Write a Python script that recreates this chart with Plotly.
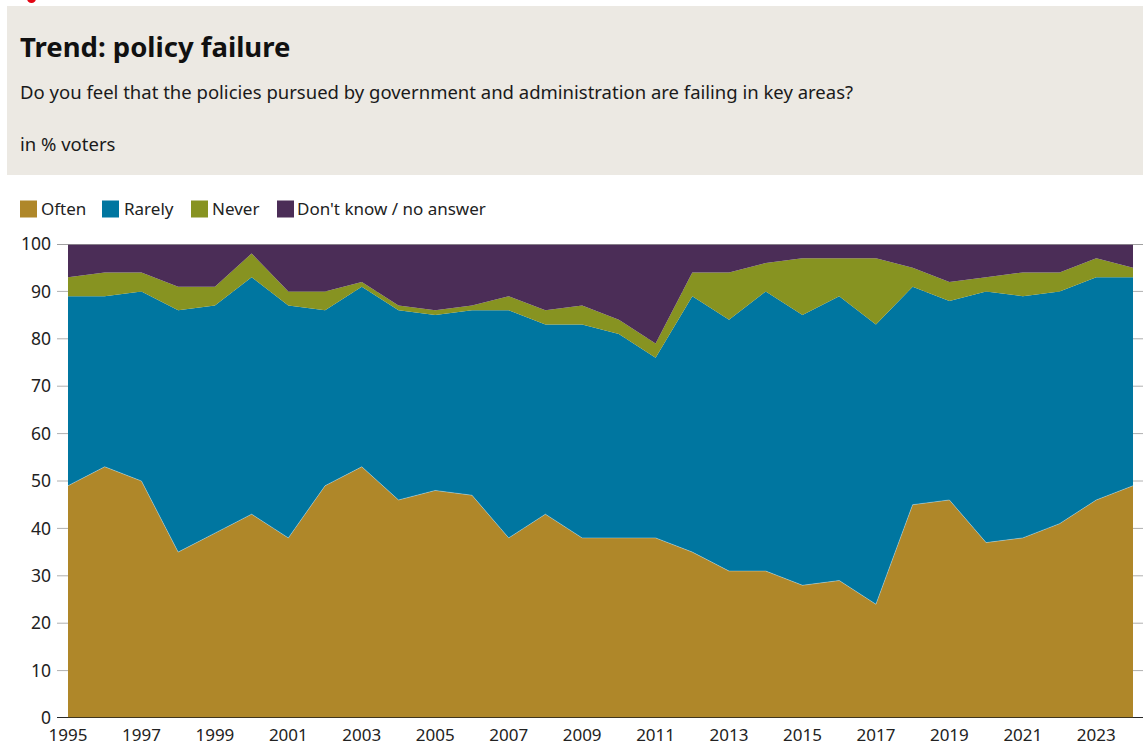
import plotly.graph_objects as go

# Survey years and shares (in % of voters)
years = list(range(1995, 2025))
often = [49, 53, 50, 35, 39, 43, 38, 49, 53, 46, 48, 47, 38, 43, 38,
         38, 38, 35, 31, 31, 28, 29, 24, 45, 46, 37, 38, 41, 46, 49]
rarely = [40, 36, 40, 51, 48, 50, 49, 37, 38, 40, 37, 39, 48, 40, 45,
          43, 38, 54, 53, 59, 57, 60, 59, 46, 42, 53, 51, 49, 47, 44]
never = [4, 5, 4, 5, 4, 5, 3, 4, 1, 1, 1, 1, 3, 3, 4,
         3, 3, 5, 10, 6, 12, 8, 14, 4, 4, 3, 5, 4, 4, 2]
dont_know = [7, 6, 6, 9, 9, 2, 10, 10, 8, 13, 14, 13, 11, 14, 13,
             16, 21, 6, 6, 4, 3, 3, 3, 5, 8, 7, 6, 6, 3, 5]

series_names = ["Often", "Rarely", "Never", "Don't know / no answer"]
series_values = [often, rarely, never, dont_know]
series_colors = ["#AF8729", "#0076A0", "#879321", "#4B2D57"]

y_ticks = list(range(0, 101, 10))
x_ticks = list(range(1995, 2024, 2))

title_text = "Trend: policy failure"
subtitle_text = "Do you feel that the policies pursued by government and administration are failing in key areas?"
unit_text = "in % voters"

FONT = "Noto Sans, Open Sans, sans-serif"
W, H = 1143, 747
ML, MR, MT, MB = 68, 10, 244, 29
PW, PH = W - ML - MR, H - MT - MB


def px_x(px):
    return (px - ML) / PW


def px_y(py):
    return (H - MB - py) / PH


fig = go.Figure()

for name, vals, col in zip(series_names, series_values, series_colors):
    line = dict(width=0, color=col)
    if name == "Often":
        line = dict(width=0.7, color="rgba(255,255,255,0.45)")
    fig.add_trace(go.Scatter(
        x=years, y=vals, name=name, mode="lines",
        stackgroup="one", fillcolor=col, line=line,
        showlegend=False, hoverinfo="x+y+name",
    ))

shapes = []
annotations = []

# Header panel
shapes.append(dict(type="rect", xref="paper", yref="paper",
                   x0=px_x(7), x1=px_x(1143), y0=px_y(175), y1=px_y(6),
                   fillcolor="#ECE9E3", line=dict(width=0), layer="below"))
# Small red mark at the top edge
shapes.append(dict(type="circle", xref="paper", yref="paper",
                   x0=px_x(27), x1=px_x(36), y0=px_y(3), y1=px_y(-6),
                   fillcolor="#E30613", line=dict(width=0), layer="above"))
# Grid lines extending past the plot on both sides
for t in y_ticks:
    if t == 0:
        col, w = "#1a1a1a", 1.3
    elif t == 100:
        col, w = "#9a9a9a", 1.3
    else:
        col, w = "#b0b0b0", 1
    shapes.append(dict(type="line", xref="paper", yref="y",
                       x0=px_x(57), x1=px_x(1143), y0=t, y1=t,
                       line=dict(color=col, width=w), layer="below"))
shapes.append(dict(type="line", xref="paper", yref="y",
                   x0=px_x(57), x1=px_x(1143), y0=0, y1=0,
                   line=dict(color="#1a1a1a", width=1.3), layer="above"))
shapes.append(dict(type="line", xref="paper", yref="y",
                   x0=px_x(57), x1=px_x(1143), y0=100, y1=100,
                   line=dict(color="#9a9a9a", width=1.3), layer="above"))

# Legend: square swatches with labels
legend_sq_x = [20, 102, 191, 277]
legend_tx_x = [41, 124, 212, 297]
for name, col, sx, tx in zip(series_names, series_colors, legend_sq_x, legend_tx_x):
    shapes.append(dict(type="rect", xref="paper", yref="paper",
                       x0=px_x(sx), x1=px_x(sx + 17),
                       y0=px_y(217.5), y1=px_y(200.5),
                       fillcolor=col, line=dict(width=0)))
    annotations.append(dict(text=name, xref="paper", yref="paper",
                            x=px_x(tx - 2), y=px_y(209), xanchor="left",
                            yanchor="middle", showarrow=False,
                            font=dict(family=FONT, size=17, color="#222222")))

annotations += [
    dict(text="<b>" + title_text + "</b>", xref="paper", yref="paper",
         x=px_x(18), y=px_y(46), xanchor="left", yanchor="middle",
         showarrow=False, font=dict(family=FONT, size=27.5, color="#111111")),
    dict(text=subtitle_text, xref="paper", yref="paper",
         x=px_x(18), y=px_y(91), xanchor="left", yanchor="middle",
         showarrow=False, font=dict(family=FONT, size=18.5, color="#1a1a1a")),
    dict(text=unit_text, xref="paper", yref="paper",
         x=px_x(18), y=px_y(143), xanchor="left", yanchor="middle",
         showarrow=False, font=dict(family=FONT, size=18.5, color="#1a1a1a")),
]

fig.update_layout(
    width=W, height=H,
    margin=dict(l=ML, r=MR, t=MT, b=MB, pad=0, autoexpand=False),
    paper_bgcolor="white", plot_bgcolor="white",
    font=dict(family=FONT, size=17, color="#222222"),
    shapes=shapes, annotations=annotations,
    showlegend=False,
    xaxis=dict(range=[1995, 2024], tickmode="array", tickvals=x_ticks,
               ticktext=[str(v) for v in x_ticks], showgrid=False,
               zeroline=False, showline=False, ticks="",
               ticklabelstandoff=5, automargin=False,
               tickfont=dict(family=FONT, size=17, color="#222222")),
    yaxis=dict(range=[0, 100], tickmode="array", tickvals=y_ticks,
               showgrid=False, zeroline=False, showline=False,
               ticks="", ticklabelstandoff=16, automargin=False,
               tickfont=dict(family=FONT, size=17.5, color="#222222")),
)

fig.write_html("out.html")
